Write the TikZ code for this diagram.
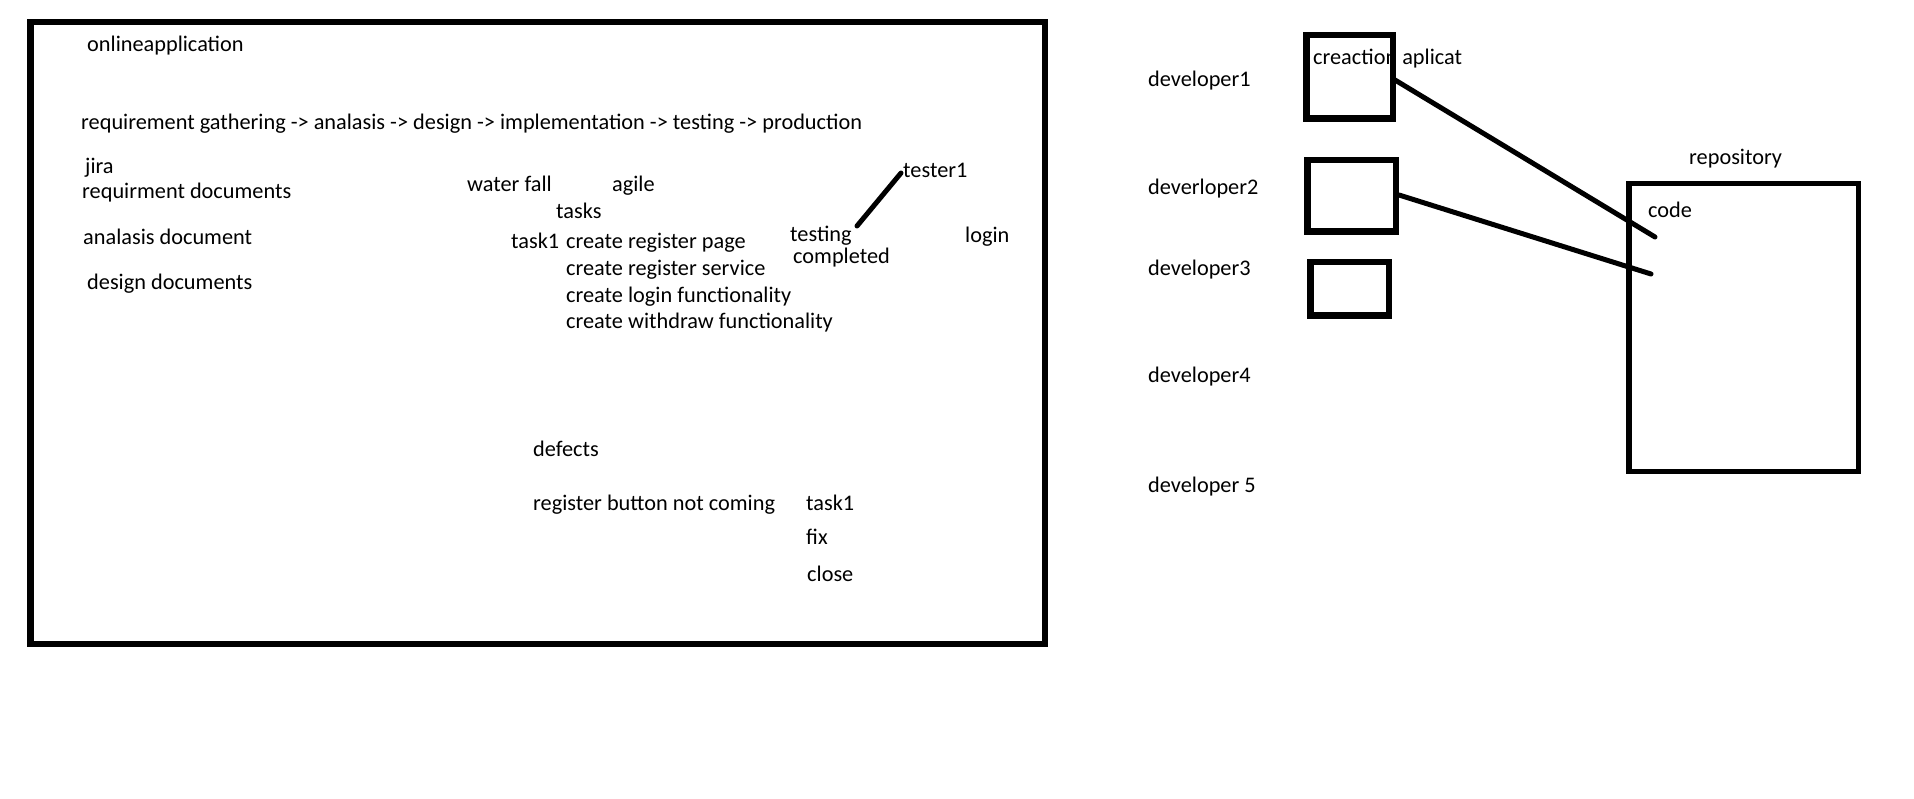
\documentclass[tikz,border=0pt]{standalone}
\usepackage{fontspec}
\setmainfont{Carlito}
\begin{document}
\begin{tikzpicture}[x=1pt,y=-1pt,
  txt/.style={anchor=base west,inner sep=0pt,font=\fontsize{22.3}{26}\selectfont},
  thickbox/.style={draw,line width=6.5pt,inner sep=0pt},
  conn/.style={line width=5pt,line cap=round}]
\useasboundingbox[fill=white] (0,0) rectangle (1914,799);
% main frame
\node[thickbox,minimum width=1014.5pt,minimum height=621.5pt] (main) at (537.5,333) {};
\node[txt] (online) at (87,52) {onlineapplication};
\node[txt] (req) at (81,130) {requirement gathering -> analasis -> design -> implementation -> testing -> production};
\node[txt] (jira) at (85,174) {jira};
\node[txt] (reqdoc) at (82,199) {requirment documents};
\node[txt] (anadoc) at (83,245) {analasis document};
\node[txt] (desdoc) at (87,290) {design documents};
\node[txt] (wf) at (467,192) {water fall};
\node[txt] (agile) at (612,192) {agile};
\node[txt] (tasks) at (556,219) {tasks};
\node[txt] (task1) at (511,249) {task1};
\node[txt] (t1) at (566,249) {create register page};
\node[txt] (t2) at (566,276) {create register service};
\node[txt] (t3) at (566,303) {create login functionality};
\node[txt] (t4) at (566,329) {create withdraw functionality};
\node[txt] (tester) at (903,178) {tester1};
\node[txt] (testing) at (790,242) {testing};
\node[txt] (completed) at (793,264) {completed};
\node[txt] (login) at (965,243) {login};
\node[txt] (defects) at (533,456) {defects};
\node[txt] (regbtn) at (533,510) {register button not coming};
\node[txt] (dtask) at (806,510) {task1};
\node[txt] (fix) at (806,544) {fix};
\node[txt] (close) at (807,581) {close};
\coordinate (tstart) at (857,226);
\coordinate (tend) at (901,173);
\draw[conn] (tstart) -- (tend);
% right side
\node[txt] (d1) at (1148,87) {developer1};
\node[txt] (d2) at (1148,195) {deverloper2};
\node[txt] (d3) at (1148,276) {developer3};
\node[txt] (d4) at (1148,383) {developer4};
\node[txt] (d5) at (1148,492) {developer 5};
\node[txt] (creac) at (1313,65) {creaction aplicat};
\node[thickbox,minimum width=86.5pt,minimum height=83.5pt] (box1) at (1349.5,77) {};
\node[thickbox,minimum width=88.5pt,minimum height=71.5pt] (box2) at (1351.5,196) {};
\node[thickbox,minimum width=78.5pt,minimum height=53.5pt] (box3) at (1349.5,289) {};
\node[thickbox,line width=5.5pt,minimum width=229.5pt,minimum height=287.5pt] (repo) at (1743.5,327.5) {};
\node[txt] (repolbl) at (1689,165) {repository};
\node[txt] (code) at (1648,218) {code};
\coordinate (l1s) at (1395,80);
\coordinate (l1e) at (1655,237);
\coordinate (l2s) at (1399,195);
\coordinate (l2e) at (1651,274);
\draw[conn] (l1s) -- (l1e);
\draw[conn] (l2s) -- (l2e);
\end{tikzpicture}
\end{document}
